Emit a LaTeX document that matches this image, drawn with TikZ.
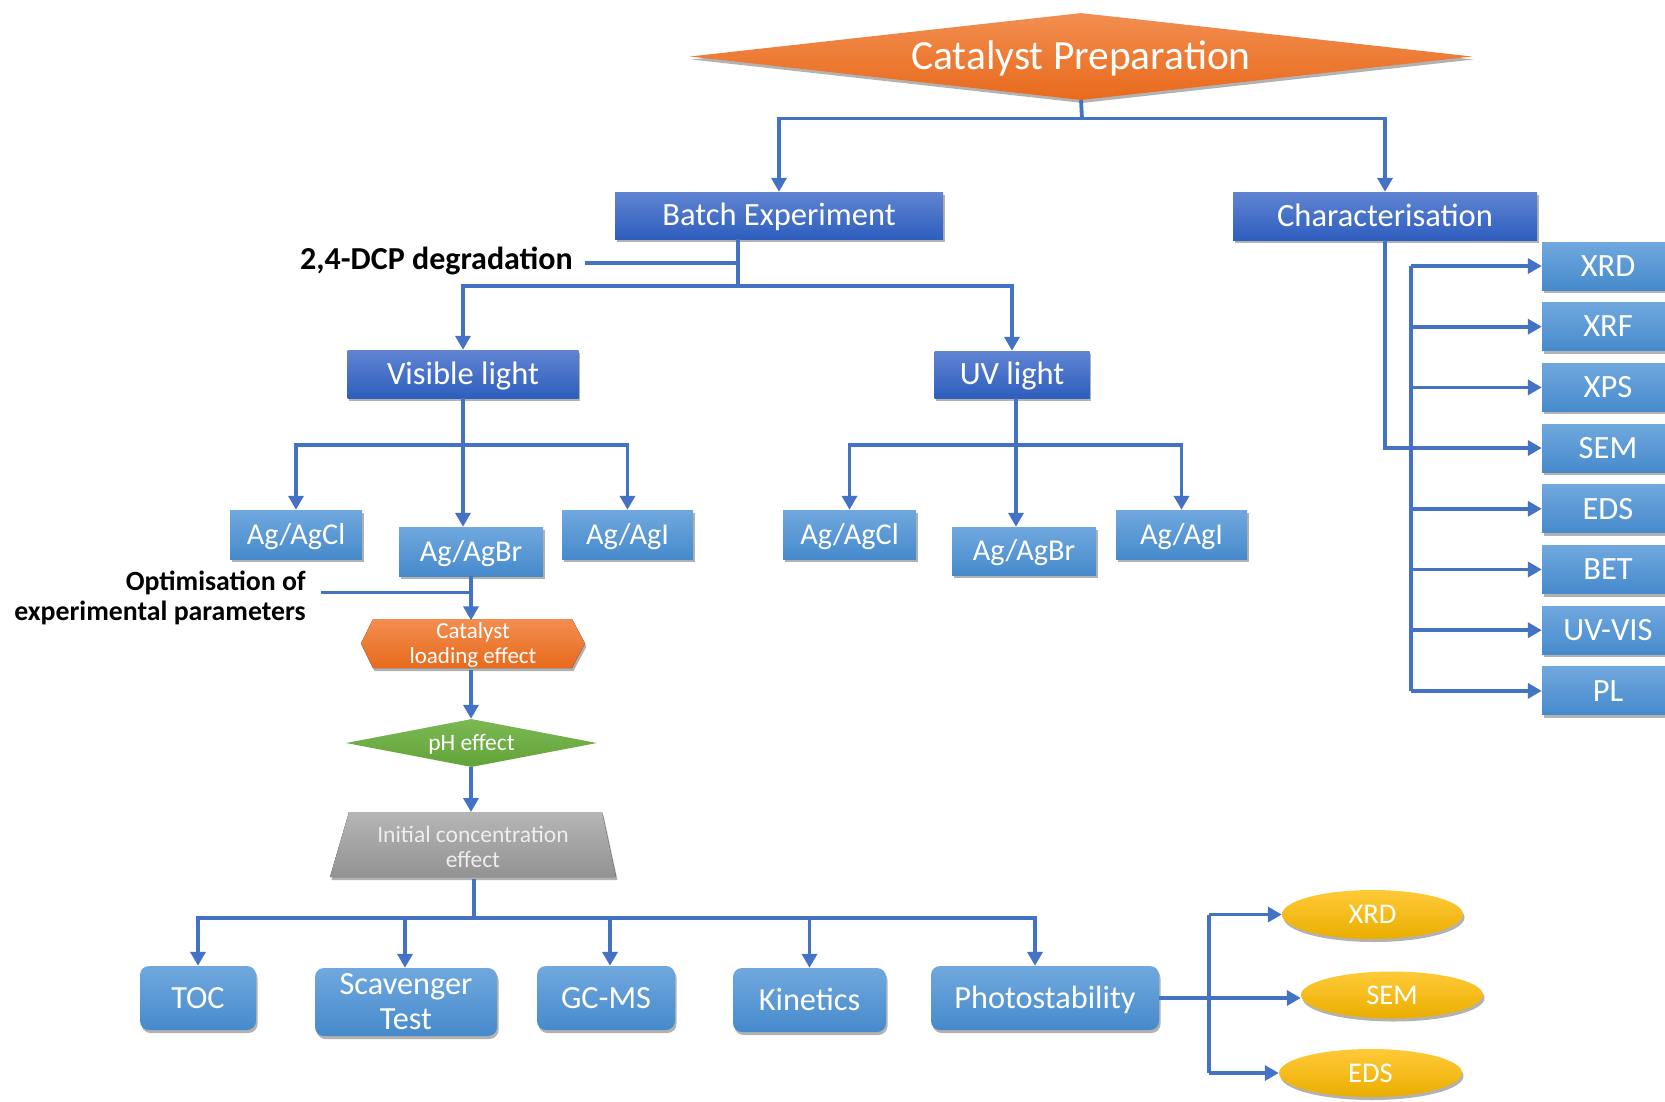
\documentclass[tikz,border=0pt]{standalone}
\usepackage{fontspec}
\setmainfont{Carlito}
\usetikzlibrary{arrows.meta,shadows,shapes.geometric}
\definecolor{ln}{RGB}{68,114,196}
\definecolor{dbT}{RGB}{96,132,210}
\definecolor{dbB}{RGB}{46,94,190}
\definecolor{lbT}{RGB}{112,168,222}
\definecolor{lbB}{RGB}{70,138,204}
\definecolor{orT}{RGB}{242,142,80}
\definecolor{orB}{RGB}{232,106,28}
\definecolor{grT}{RGB}{124,184,84}
\definecolor{grB}{RGB}{98,164,56}
\definecolor{gyT}{RGB}{182,182,182}
\definecolor{gyB}{RGB}{146,146,146}
\definecolor{yeT}{RGB}{255,202,56}
\definecolor{yeB}{RGB}{234,174,0}
\definecolor{gytx}{RGB}{238,238,238}
\tikzset{
  conn/.style={draw=ln, line width=3.8pt, -{Triangle[length=14pt,width=15pt]}},
  plain/.style={draw=ln, line width=3.8pt},
  shad/.style={drop shadow={shadow xshift=1.5pt, shadow yshift=-3pt, opacity=0.3, fill=black}},
  capc/.style={text height=#1, text depth=0pt},
  dbox/.style={rectangle, inner sep=0pt, top color=dbT, bottom color=dbB, text=white,
    font=\fontsize{32.5}{38}\selectfont, capc=20.5pt, shad},
  lbox/.style={rectangle, inner sep=0pt, top color=lbT, bottom color=lbB, text=white,
    font=\fontsize{30.3}{35}\selectfont, capc=19.15pt, shad},
  cbox/.style={lbox, minimum width=132pt, minimum height=48pt,
    font=\fontsize{32.5}{36}\selectfont, capc=20.5pt},
  rbox/.style={lbox, rounded corners=9pt, font=\fontsize{32.3}{35}\selectfont, capc=20.4pt},
  ell/.style={ellipse, inner sep=0pt, top color=yeT, bottom color=yeB, text=white,
    font=\fontsize{28.5}{32}\selectfont, capc=18pt, shad},
  lbl/.style={font=\bfseries\fontsize{27.8}{30}\selectfont, text=black, inner sep=0pt},
}
\begin{document}
\begin{tikzpicture}[x=1pt,y=-1pt]
\useasboundingbox (0,0) rectangle (1665,1101);
\clip (0,0) rectangle (1665,1101);

% ---------- top
\node[diamond, aspect=9, inner sep=0pt, minimum width=782pt, minimum height=87pt,
      top color=orT, bottom color=orB, shad, text=white, capc=26.2pt,
      font=\fontsize{41.5}{48}\selectfont] (prep) at (1081,56.5) {Catalyst Preparation};

\node[dbox, minimum width=328pt, minimum height=47pt] (batch) at (779,215.5) {Batch Experiment};
\node[dbox, minimum width=304pt, minimum height=48pt] (charac) at (1385,216) {Characterisation};

\coordinate (tj) at (1082,118.5);
\draw[plain] (prep.south) -- (tj);
\draw[conn] (tj) -| (batch.north);
\draw[conn] (tj) -| (charac.north);

% ---------- batch branch
\node[lbl, font=\bfseries\fontsize{32}{36}\selectfont, anchor=base east] (dcp) at (573,269) {2,4-DCP degradation};
\node[dbox, minimum width=231pt, minimum height=48pt] (vis) at (463,374) {Visible light};
\node[dbox, minimum width=155pt, minimum height=47pt] (uv) at (1012,374.5) {UV light};

\coordinate (bj) at (738,286);
\coordinate (dl) at (585,263);
\draw[plain] (batch.south -| bj) -- (bj);
\draw[plain] (dl) -- (dl -| bj);
\draw[conn] (bj) -| (vis.north);
\draw[conn] (bj) -| (uv.north);

% ---------- visible light
\node[lbox, minimum width=132pt, minimum height=49pt] (agclL) at (296,534.5) {Ag/AgCl};
\node[lbox, minimum width=144pt, minimum height=49pt] (agbrL) at (471,551.5) {Ag/AgBr};
\node[lbox, minimum width=131pt, minimum height=49pt] (agiL) at (627.5,534.5) {Ag/AgI};
\coordinate (vj) at (463,445);
\draw[conn] (vis.south) -- (vis.south |- agbrL.north);
\draw[conn] (vj) -| (agclL.north);
\draw[conn] (vj) -| (agiL.north);

% ---------- UV light
\node[lbox, minimum width=133pt, minimum height=49pt] (agclR) at (849.5,534.5) {Ag/AgCl};
\node[lbox, minimum width=144pt, minimum height=48pt] (agbrR) at (1024,551) {Ag/AgBr};
\node[lbox, minimum width=131pt, minimum height=49pt] (agiR) at (1181.5,534.5) {Ag/AgI};
\coordinate (uj) at (1016,445);
\draw[conn] (uv.south -| uj) -- (uj |- agbrR.north);
\draw[conn] (uj) -| (agclR.north);
\draw[conn] (uj) -| (agiR.north);

% ---------- characterisation list
\node[cbox] (r1) at (1608,266) {XRD};
\node[cbox] (r2) at (1608,326.7) {XRF};
\node[cbox] (r3) at (1608,387.4) {XPS};
\node[cbox] (r4) at (1608,448) {SEM};
\node[cbox] (r5) at (1608,508.8) {EDS};
\node[cbox] (r6) at (1608,569.5) {BET};
\node[cbox] (r7) at (1608,630.2) {UV-VIS};
\node[cbox] (r8) at (1608,690.9) {PL};
\coordinate (bus) at (1411,266);
\draw[plain] (bus |- r1.west) -- (bus |- r8.west);
\foreach \r in {r1,r2,r3,r5,r6,r7,r8}{
  \draw[conn] (bus |- \r.west) -- (\r.west);
}
\draw[conn] (charac.south) |- (r4.west);

% ---------- optimisation chain
\node[lbl, align=right, anchor=east] (opt) at (306,598) {Optimisation of\\experimental parameters};
\coordinate (o1) at (320.5,592.5);
\draw[plain] (o1) -- (o1 -| agbrL.south);

\fill[shad, top color=orT, bottom color=orB] (373,619) -- (572,619) -- (585,643.5) -- (572,668) -- (373,668) -- (361,643.5) -- cycle;
\node[minimum width=224pt, minimum height=49pt, inner sep=0pt, text=white, align=center,
      font=\fontsize{23}{25}\selectfont] (cat) at (473,645) {Catalyst\\loading effect};

\node[diamond, aspect=5.2, inner sep=0pt, minimum width=251pt, minimum height=48pt,
      top color=grT, bottom color=grB, text=white, capc=14.85pt,
      font=\fontsize{23.5}{26}\selectfont] (ph) at (471.5,743) {pH effect};

\fill[shad, top color=gyT, bottom color=gyB] (349,812) -- (602,812) -- (616,877) -- (330,877) -- cycle;
\node[minimum width=286pt, minimum height=65pt, inner sep=0pt, text=gytx, align=center,
      font=\fontsize{23.5}{25}\selectfont] (init) at (473,846.5) {Initial concentration\\effect};

\draw[conn] (agbrL.south) -- (agbrL.south |- cat.north);
\draw[conn] (agbrL.south |- cat.south) -- (agbrL.south |- ph.north);
\draw[conn] (agbrL.south |- ph.south) -- (agbrL.south |- 0,812);

% ---------- bottom row
\node[rbox, minimum width=116pt, minimum height=64pt] (toc) at (198,998) {TOC};
\node[rbox, minimum width=182pt, minimum height=68pt, align=center, text height=, text depth=] (scav) at (406,1002) {Scavenger\\Test};
\node[rbox, minimum width=138pt, minimum height=64pt] (gcms) at (606,998) {GC-MS};
\node[rbox, minimum width=153pt, minimum height=64pt] (kin) at (809.5,1000) {Kinetics};
\node[rbox, minimum width=228pt, minimum height=64pt] (photo) at (1045,998) {Photostability};

\coordinate (bj2) at (474,918);
\draw[plain] (init.south -| bj2) -- (bj2);
\draw[conn] (bj2) -| (toc.north);
\draw[conn] (bj2) -| ([xshift=-1pt]scav.north);
\draw[conn] (bj2) -| ([xshift=4pt]gcms.north);
\draw[conn] (bj2) -| (kin.north);
\draw[conn] (bj2) -| ([xshift=-10pt]photo.north);

% ---------- photostability ellipses
\node[ell, minimum width=181pt, minimum height=49pt] (e1) at (1372.5,914.5) {XRD};
\node[ell, minimum width=182pt, minimum height=47pt] (e2) at (1392,995) {SEM};
\node[ell, minimum width=183pt, minimum height=48pt] (e3) at (1370.5,1073) {EDS};
\coordinate (pv) at (1209,996);
\draw[plain] (pv |- e1.west) -- (pv |- e3.west);
\draw[conn] (pv |- e1.west) -- (e1.west);
\draw[conn] (pv |- e3.west) -- (e3.west);
\draw[conn] (photo.east) -- (photo.east -| e2.west);
\end{tikzpicture}
\end{document}
